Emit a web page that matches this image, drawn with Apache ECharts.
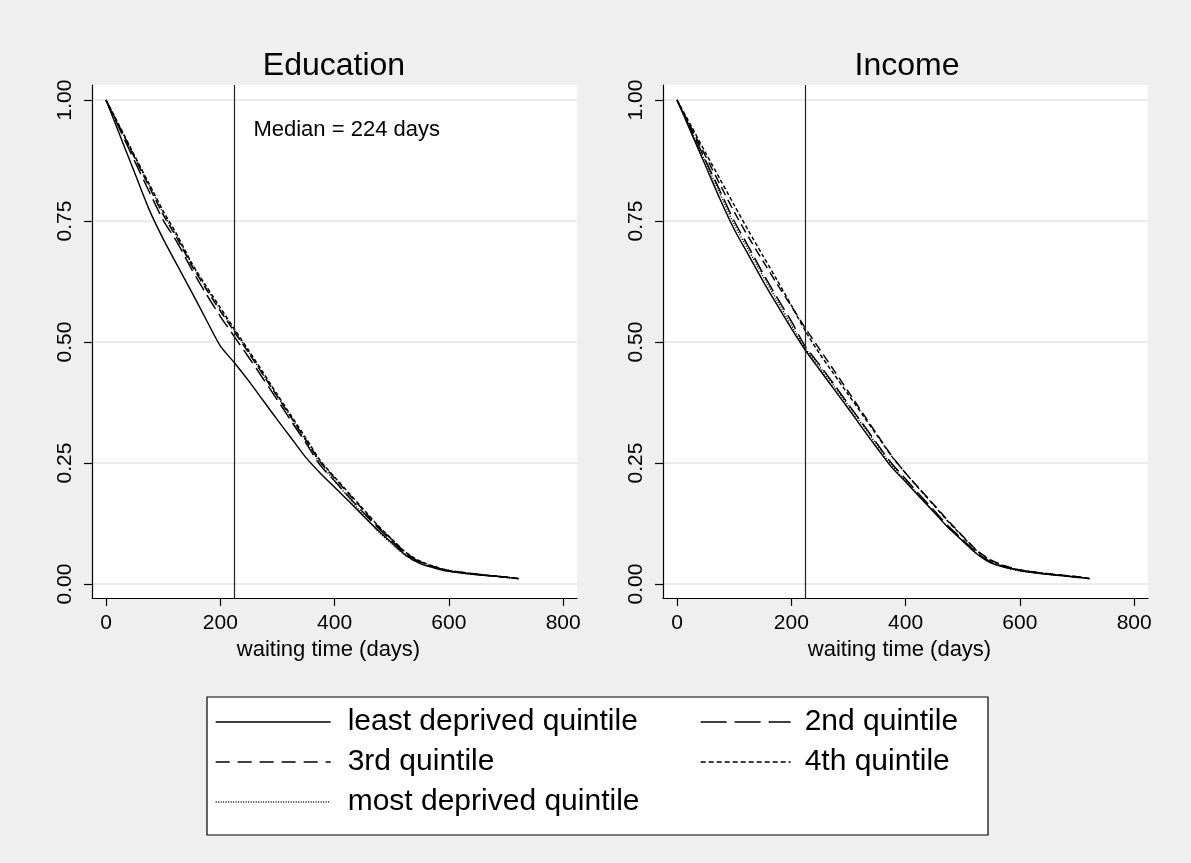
<!DOCTYPE html>
<html>
<head>
<meta charset="utf-8">
<script src="https://cdn.jsdelivr.net/npm/echarts@6/dist/echarts.min.js"></script>
<style>
html,body{margin:0;padding:0;background:#efefef;}
#chart{width:1191px;height:863px;}
</style>
</head>
<body>
<div id="chart"></div>
<script>
// ---- data ----
const days = [0,25,50,75,100,125,150,175,200,224,250,275,300,325,350,375,400,425,450,475,500,525,550,575,600,650,700,722];
const seriesNames = ['least deprived quintile','2nd quintile','3rd quintile','4th quintile','most deprived quintile'];
const xTicks = [0,200,400,600,800];
const yTicks = [0,0.25,0.5,0.75,1];
const medianDays = 224;
const panelTitles = ['Education','Income'];
const xAxisTitle = 'waiting time (days)';
const medianLabel = 'Median = 224 days';

// Education
const eduLeast = [1.000,0.925,0.850,0.775,0.713,0.658,0.603,0.547,0.492,0.458,0.419,0.379,0.339,0.300,0.261,0.229,0.200,0.171,0.141,0.112,0.085,0.059,0.042,0.033,0.026,0.019,0.014,0.011];
const edu2nd   = [1.000,0.937,0.874,0.812,0.752,0.705,0.650,0.600,0.553,0.512,0.468,0.424,0.380,0.335,0.291,0.245,0.213,0.180,0.148,0.117,0.089,0.062,0.045,0.035,0.027,0.020,0.014,0.011];
const edu3rd   = [1.000,0.941,0.881,0.822,0.763,0.713,0.658,0.610,0.564,0.522,0.477,0.432,0.387,0.342,0.297,0.252,0.219,0.186,0.153,0.120,0.092,0.064,0.046,0.035,0.028,0.020,0.014,0.011];
const edu4th   = [1.000,0.943,0.885,0.828,0.771,0.720,0.663,0.616,0.571,0.528,0.482,0.437,0.391,0.346,0.301,0.255,0.221,0.188,0.155,0.122,0.093,0.065,0.047,0.036,0.028,0.020,0.014,0.011];
const eduMost  = [1.000,0.942,0.883,0.825,0.766,0.716,0.661,0.613,0.567,0.525,0.479,0.433,0.388,0.342,0.295,0.249,0.213,0.178,0.143,0.110,0.083,0.058,0.042,0.033,0.026,0.019,0.014,0.011];

// Income
const incLeast = [1.000,0.932,0.864,0.796,0.733,0.680,0.627,0.577,0.528,0.484,0.442,0.402,0.362,0.321,0.281,0.242,0.211,0.179,0.148,0.116,0.089,0.062,0.043,0.034,0.028,0.020,0.014,0.011];
const inc2nd   = [1.000,0.938,0.875,0.813,0.750,0.697,0.643,0.592,0.543,0.492,0.452,0.412,0.371,0.331,0.290,0.250,0.217,0.184,0.152,0.119,0.092,0.064,0.045,0.035,0.028,0.020,0.014,0.011];
const inc3rd   = [1.000,0.942,0.884,0.826,0.769,0.717,0.668,0.620,0.574,0.530,0.484,0.441,0.397,0.353,0.309,0.266,0.229,0.196,0.163,0.130,0.099,0.069,0.049,0.037,0.029,0.021,0.015,0.011];
const inc4th   = [1.000,0.946,0.891,0.837,0.783,0.730,0.679,0.628,0.576,0.524,0.475,0.433,0.391,0.349,0.307,0.265,0.229,0.195,0.162,0.128,0.098,0.068,0.048,0.036,0.029,0.021,0.015,0.011];
const incMost  = [1.000,0.936,0.871,0.807,0.743,0.690,0.637,0.586,0.535,0.488,0.448,0.408,0.368,0.328,0.287,0.246,0.213,0.180,0.148,0.116,0.089,0.062,0.044,0.034,0.027,0.020,0.014,0.011];

const eduData = [eduLeast, edu2nd, edu3rd, edu4th, eduMost];
const incData = [incLeast, inc2nd, inc3rd, inc4th, incMost];

// ---- styles ----
const FONT = '"Liberation Sans", Arial, Helvetica, sans-serif';
const dashes = ['solid', [16,6], [9,5], [4,2.5], [1,1.6]];
const legendDashes = ['solid', [26,8], [14,8], [5,3], [1,1.5]];

const chart = echarts.init(document.getElementById('chart'), null, {renderer:'canvas'});

function pairs(vals){ return days.map((d,i)=>[d, vals[i]]); }

function makeSeries(dataSets, gridIdx){
  return dataSets.map((vals, k) => {
    const s = {
      name: seriesNames[k],
      type: 'line',
      xAxisIndex: gridIdx, yAxisIndex: gridIdx,
      data: pairs(vals),
      showSymbol: false, symbol: 'none',
      smooth: 0.25,
      lineStyle: {color:'#000', width:1.45, type: dashes[k]},
      itemStyle: {color:'#000'},
      emphasis: {disabled:true},
      z: 3
    };
    if (k === 0) {
      s.markLine = {
        silent: true, symbol: ['none','none'],
        lineStyle: {color:'#222', width:1.2, type:'solid'},
        label: {show:false},
        data: [{xAxis: medianDays}]
      };
      if (gridIdx === 0) {
        s.markPoint = {
          silent: true, symbol: 'circle', symbolSize: 0,
          data: [{coord:[258, 0.938]}],
          label: {show:true, formatter: medianLabel, position:'right', distance:0,
                  color:'#000', fontSize:22, fontFamily:FONT}
        };
      }
    }
    return s;
  });
}

const grids = [
  {left: 92, top: 85, width: 485, height: 513},
  {left: 663, top: 85, width: 485, height: 513}
];

function xAxis(i){
  return {
    type:'value', gridIndex:i, min:-24.5, max:824.2,
    name: xAxisTitle, nameLocation:'middle', nameGap:40,
    nameTextStyle:{color:'#000', fontSize:22, fontFamily:FONT, padding:[0,12,0,0]},
    axisLine:{show:true, onZero:false, lineStyle:{color:'#000', width:1.2}},
    axisTick:{show:true, length:8, customValues:xTicks, lineStyle:{color:'#000', width:1.2}},
    axisLabel:{customValues:xTicks, color:'#000', fontSize:21, fontFamily:FONT, margin:15},
    splitLine:{show:false}
  };
}
function yAxis(i){
  return {
    type:'value', gridIndex:i, min:-0.029, max:1.031,
    axisLine:{show:true, onZero:false, lineStyle:{color:'#000', width:1.2}},
    axisTick:{show:true, length:8, customValues:yTicks, lineStyle:{color:'#000', width:1.2}},
    axisLabel:{customValues:yTicks, rotate:90, color:'#000', fontSize:21, fontFamily:FONT, margin:16,
               formatter: v => v.toFixed(2)},
    splitLine:{show:true, lineStyle:{color:'#e4e4e4', width:1.5}}
  };
}

const legendText1 = {color:'#000', fontSize:30, fontFamily:FONT, padding:[0,0,0,12], lineHeight:30};
const legendText2 = {color:'#000', fontSize:30, fontFamily:FONT, padding:[0,0,0,9], lineHeight:30};

const option = {
  backgroundColor:'#efefef',
  animation:false,
  title: [
    {text: panelTitles[0], left: 329, top: 45, textAlign:'center',
     textStyle:{color:'#000', fontSize:32, fontWeight:'normal', fontFamily:FONT}},
    {text: panelTitles[1], left: 902, top: 45, textAlign:'center',
     textStyle:{color:'#000', fontSize:32, fontWeight:'normal', fontFamily:FONT}}
  ],
  grid: grids.map(g => Object.assign({show:true, backgroundColor:'#fff', borderWidth:0, containLabel:false}, g)),
  xAxis: [xAxis(0), xAxis(1)],
  yAxis: [yAxis(0), yAxis(1)],
  graphic: [
    {type:'rect', z:0, shape:{x:207, y:697, width:781, height:138},
     style:{fill:'#fff', stroke:'#000', lineWidth:1.2}}
  ],
  legend: [
    {orient:'vertical', left:210, top:702, itemWidth:115, itemHeight:20, itemGap:10,
     selectedMode:false,
     data: [
       {name:seriesNames[0], itemStyle:{opacity:0}, lineStyle:{type:legendDashes[0], width:1.3, color:'#000'}},
       {name:seriesNames[2], itemStyle:{opacity:0}, lineStyle:{type:legendDashes[2], width:1.3, color:'#000'}},
       {name:seriesNames[4], itemStyle:{opacity:0}, lineStyle:{type:legendDashes[4], width:1.3, color:'#000'}}
     ],
     textStyle: legendText1},
    {orient:'vertical', left:695, top:702, itemWidth:90, itemHeight:20, itemGap:10,
     selectedMode:false,
     data: [
       {name:seriesNames[1], itemStyle:{opacity:0}, lineStyle:{type:legendDashes[1], width:1.3, color:'#000'}},
       {name:seriesNames[3], itemStyle:{opacity:0}, lineStyle:{type:legendDashes[3], width:1.3, color:'#000'}}
     ],
     textStyle: legendText2}
  ],
  series: makeSeries(eduData, 0).concat(makeSeries(incData, 1))
};

chart.setOption(option);
</script>
</body>
</html>
